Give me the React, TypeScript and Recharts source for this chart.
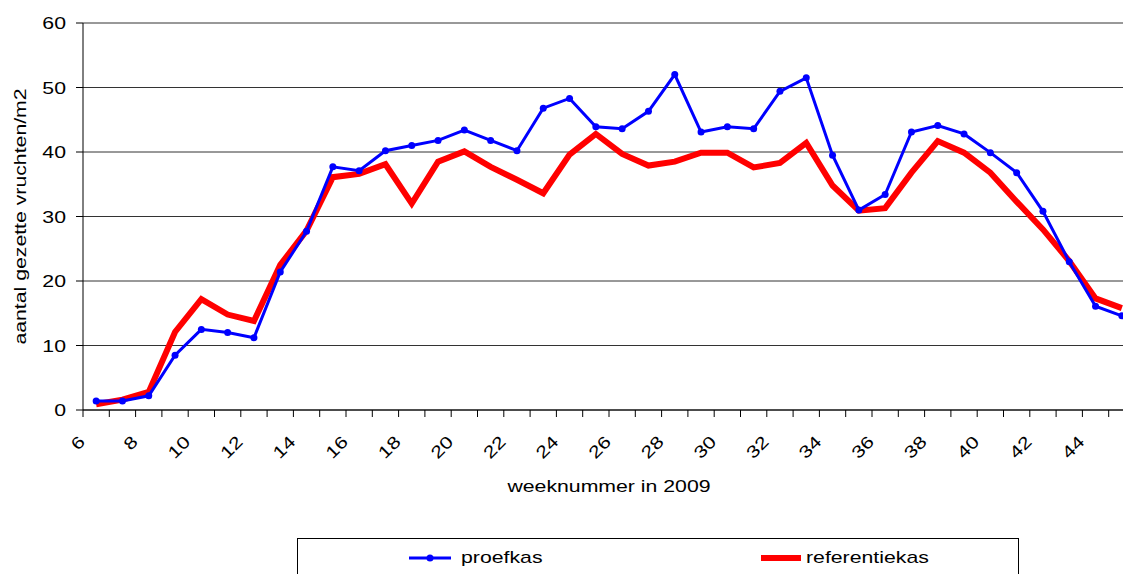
import React from "react"
import { LineChart, Line, XAxis, YAxis, CartesianGrid, Legend } from "recharts"

const weeks = [6, 7, 8, 9, 10, 11, 12, 13, 14, 15, 16, 17, 18, 19, 20, 21, 22, 23, 24, 25, 26, 27, 28, 29, 30, 31, 32, 33, 34, 35, 36, 37, 38, 39, 40, 41, 42, 43, 44, 45]
const proefkas = [1.4, 1.4, 2.2, 8.5, 12.5, 12.0, 11.2, 21.4, 27.7, 37.7, 37.1, 40.2, 41.0, 41.8, 43.4, 41.8, 40.2, 46.8, 48.3, 43.9, 43.6, 46.3, 52.0, 43.1, 43.9, 43.6, 49.4, 51.5, 39.5, 31.0, 33.4, 43.1, 44.1, 42.8, 39.9, 36.8, 30.8, 23.0, 16.1, 14.6]
const referentiekas = [0.9, 1.6, 2.8, 12.1, 17.2, 14.8, 13.8, 22.5, 27.8, 36.1, 36.6, 38.1, 32.0, 38.5, 40.1, 37.7, 35.7, 33.6, 39.6, 42.8, 39.7, 37.9, 38.5, 39.9, 39.9, 37.6, 38.3, 41.4, 34.8, 30.9, 31.3, 36.8, 41.7, 39.9, 36.8, 32.3, 28.0, 23.1, 17.3, 15.8]
const labelWeeks = [6, 8, 10, 12, 14, 16, 18, 20, 22, 24, 26, 28, 30, 32, 34, 36, 38, 40, 42, 44]
const yTicks = [0, 10, 20, 30, 40, 50, 60]

const data = weeks.map((w, i) => ({ week: w, proefkas: proefkas[i], referentiekas: referentiekas[i] }))
// tick marks sit between the weeks, labels on every other week
const boundaries = [...weeks.map((w) => w - 0.5), weeks[weeks.length - 1] + 0.5]
const xTicks = [...boundaries, ...labelWeeks].sort((a, b) => a - b)

const font = "'Liberation Sans', Arial, sans-serif"
// the original text is drawn a bit wider than Arial
const SX = 1.25

function XTick({ x, y, payload }: any) {
  const v = payload.value
  if (!labelWeeks.includes(v)) {
    return <line x1={x} x2={x} y1={y} y2={y + 7} stroke="#000" />
  }
  const tx = x - 10
  const ty = y + 33
  return (
    <text transform={`translate(${tx} ${ty}) rotate(-45) scale(${SX} 1)`} textAnchor="end" fontSize={17} fontFamily={font} fill="#000">
      {v}
    </text>
  )
}

function YTick({ x, y, payload }: any) {
  return (
    <text transform={`translate(${x} ${y}) scale(${SX} 1)`} dy="0.36em" textAnchor="end" fontSize={17} fontFamily={font} fill="#000">
      {payload.value}
    </text>
  )
}

function YTitle({ viewBox }: any) {
  const cx = 20
  const cy = viewBox.y + viewBox.height / 2
  return (
    <text transform={`translate(${cx} ${cy}) rotate(-90) scale(${SX} 1)`} dy="0.36em" textAnchor="middle" fontSize={17} fontFamily={font} fill="#000">
      aantal gezette vruchten/m2
    </text>
  )
}

function XTitle({ viewBox }: any) {
  const cx = viewBox.x + viewBox.width / 2
  return (
    <text transform={`translate(${cx} 492) scale(${SX} 1)`} textAnchor="middle" fontSize={17} fontFamily={font} fill="#000">
      weeknummer in 2009
    </text>
  )
}

const legendText: React.CSSProperties = {
  position: "absolute",
  top: 9,
  display: "inline-block",
  transform: `scaleX(${SX})`,
  transformOrigin: "0 50%",
  whiteSpace: "nowrap",
}

function LegendBox() {
  return (
    <div style={{ position: "relative", width: 722, height: 40, border: "1px solid #000", boxSizing: "border-box", fontFamily: font, fontSize: 17 }}>
      <svg width={722} height={40} style={{ position: "absolute", left: 0, top: 0 }}>
        <line x1={111} x2={153} y1={19} y2={19} stroke="#0000FF" strokeWidth={3} />
        <circle cx={132} cy={19} r={3.5} fill="#0000FF" />
        <line x1={463} x2={503} y1={19} y2={19} stroke="#FF0000" strokeWidth={6} />
      </svg>
      <span style={{ ...legendText, left: 163 }}>proefkas</span>
      <span style={{ ...legendText, left: 508 }}>referentiekas</span>
    </div>
  )
}

export default function App() {
  return (
    <div style={{ position: "fixed", left: 0, top: 0, width: 1123, height: 574, overflow: "hidden", background: "#fff" }}>
      <LineChart width={1160} height={574} data={data} margin={{ top: 23, right: 25, left: 0, bottom: 0 }}>
        <CartesianGrid horizontal vertical={false} stroke="#333" />
        <XAxis
          dataKey="week"
          type="number"
          domain={[5.5, 45.5]}
          ticks={xTicks}
          interval={0}
          tick={<XTick />}
          tickSize={0}
          tickMargin={0}
          tickLine={false}
          axisLine={{ stroke: "#000" }}
          height={164}
          label={<XTitle />}
        />
        <YAxis
          domain={[0, 60]}
          ticks={yTicks}
          width={83}
          tickSize={7}
          tickMargin={10}
          axisLine={{ stroke: "#000" }}
          tickLine={{ stroke: "#000" }}
          tick={<YTick />}
          label={<YTitle />}
        />
        <Legend
          layout="horizontal"
          verticalAlign="middle"
          align="center"
          content={<LegendBox />}
          wrapperStyle={{ top: 538, left: 297, width: 722, height: 40 }}
        />
        <Line dataKey="referentiekas" stroke="#FF0000" strokeWidth={6} dot={false} isAnimationActive={false} />
        <Line dataKey="proefkas" stroke="#0000FF" strokeWidth={3} dot={{ r: 3.5, fill: "#0000FF", stroke: "none" }} isAnimationActive={false} />
      </LineChart>
    </div>
  )
}
